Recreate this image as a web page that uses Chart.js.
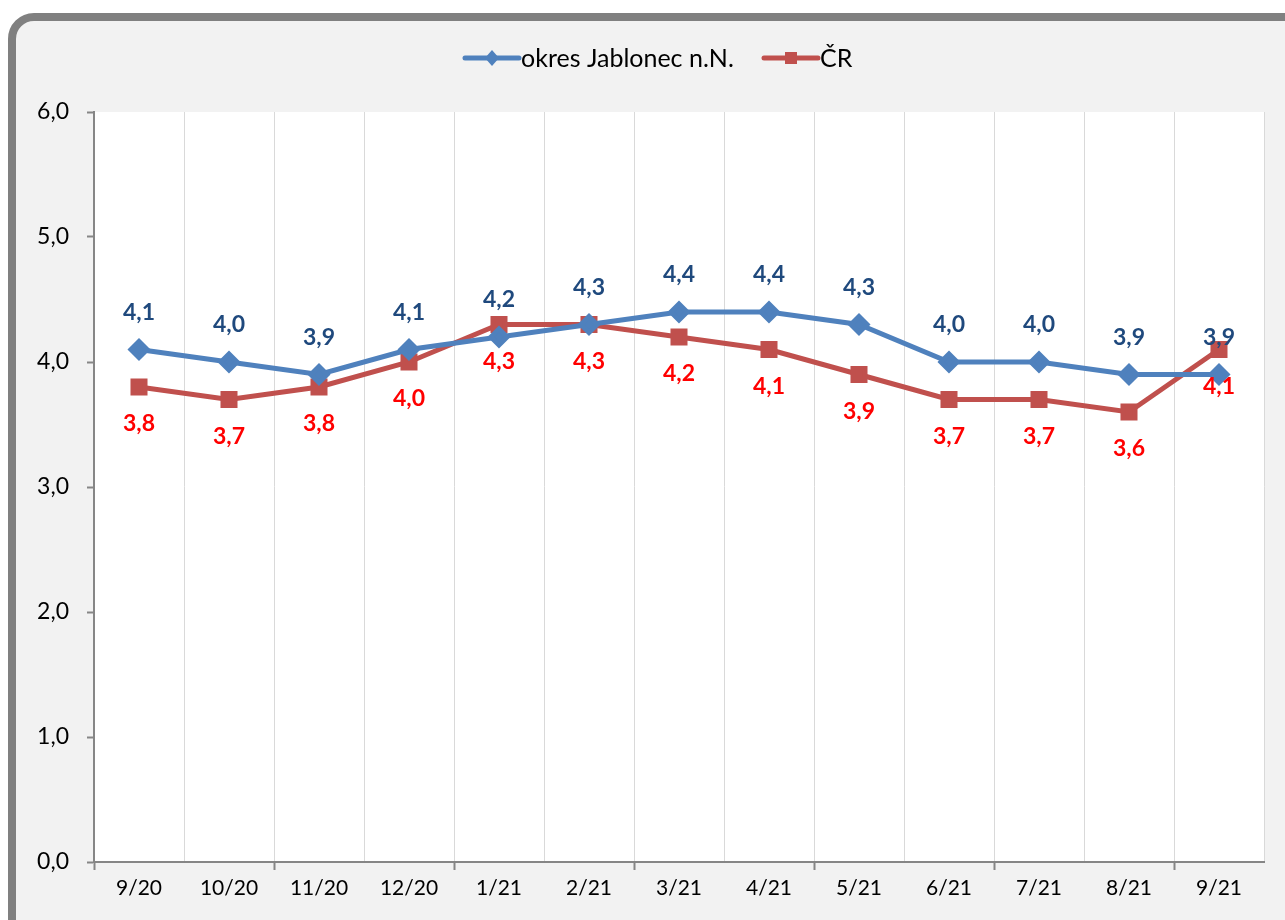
<!DOCTYPE html>
<html>
<head>
<meta charset="utf-8">
<script src="https://cdn.jsdelivr.net/npm/chart.js@4"></script>
<style>
  html, body { margin: 0; padding: 0; background: #fff; }
  body { width: 1285px; height: 920px; position: relative; overflow: hidden; }
  #frame {
    position: absolute; left: 8px; top: 13px; width: 1320px; height: 960px;
    box-sizing: border-box; border: 8px solid #808080; border-radius: 26px;
    background: #f2f2f2;
  }
  #chart { position: absolute; left: 0; top: 0; }
</style>
</head>
<body>
<div id="frame"></div>
<canvas id="chart" width="1285" height="920"></canvas>
<script>
// Monthly values.
const months = ["9/20", "10/20", "11/20", "12/20", "1/21", "2/21", "3/21",
  "4/21", "5/21", "6/21", "7/21", "8/21", "9/21"];
const jablonec = [4.1, 4.0, 3.9, 4.1, 4.2, 4.3, 4.4, 4.4, 4.3, 4.0, 4.0, 3.9, 3.9];
const cr = [3.8, 3.7, 3.8, 4.0, 4.3, 4.3, 4.2, 4.1, 3.9, 3.7, 3.7, 3.6, 4.1];
const yTicks = [0, 1, 2, 3, 4, 5, 6];

const BLUE = "#4f81bd";
const RED = "#c0504d";
const FONT = "Lato, 'Open Sans', sans-serif";

const fmt = (v) => v.toFixed(1).replace(".", ",");

// White plot area behind the lines.
const plotBg = {
  id: "plotBg",
  beforeDraw(chart) {
    const a = chart.chartArea, c = chart.ctx;
    c.save();
    c.fillStyle = "#ffffff";
    c.fillRect(a.left, a.top, a.right - a.left, a.bottom - a.top);
    c.restore();
  },
};

// Value labels: first series above the point, second one below.
const valueLabels = {
  id: "valueLabels",
  afterDatasetsDraw(chart) {
    const c = chart.ctx;
    c.save();
    c.font = "bold 23px " + FONT;
    c.textAlign = "center";
    c.textBaseline = "middle";
    chart.data.datasets.forEach((ds, i) => {
      const meta = chart.getDatasetMeta(i);
      meta.data.forEach((pt, j) => {
        c.fillStyle = i === 0 ? "#1f497d" : "#ff0000";
        const dy = i === 0 ? -37 : 37;
        c.fillText(fmt(ds.data[j]), pt.x, pt.y + dy);
      });
    });
    c.restore();
  },
};

// Legend drawn by hand: line segment with marker, then the name.
const lineLegend = {
  id: "lineLegend",
  afterDraw(chart) {
    const c = chart.ctx;
    c.save();
    c.font = "25px " + FONT;
    c.textBaseline = "middle";
    const y = 58;
    const items = [
      { x: 463, color: BLUE, style: "diamond", label: chart.data.datasets[0].label },
      { x: 762, color: RED, style: "square", label: chart.data.datasets[1].label },
    ];
    items.forEach((it) => {
      c.strokeStyle = it.color;
      c.lineWidth = 5;
      c.lineCap = "round";
      c.beginPath();
      c.moveTo(it.x + 2, y);
      c.lineTo(it.x + 56, y);
      c.stroke();
      c.fillStyle = it.color;
      const mx = it.x + 29;
      if (it.style === "diamond") {
        c.beginPath();
        c.moveTo(mx, y - 8);
        c.lineTo(mx + 7, y);
        c.lineTo(mx, y + 8);
        c.lineTo(mx - 7, y);
        c.closePath();
        c.fill();
      } else {
        c.fillRect(mx - 6, y - 6, 12, 12);
      }
      c.fillStyle = "#000";
      c.fillText(it.label, it.x + 58, y + 1);
    });
    c.restore();
  },
};

new Chart(document.getElementById("chart"), {
  type: "line",
  data: {
    labels: months,
    datasets: [
      {
        label: "okres Jablonec n.N.",
        data: jablonec,
        borderColor: BLUE,
        backgroundColor: BLUE,
        borderWidth: 5,
        pointStyle: "rectRot",
        pointRadius: 8,
        pointHoverRadius: 8,
        tension: 0,
      },
      {
        label: "ČR",
        data: cr,
        borderColor: RED,
        backgroundColor: RED,
        borderWidth: 5,
        pointStyle: "rect",
        pointRadius: 8.5,
        pointHoverRadius: 8.5,
        tension: 0,
      },
    ],
  },
  options: {
    responsive: false,
    animation: false,
    events: [],
    layout: { padding: { top: 112, right: 21, left: 0, bottom: 0 } },
    plugins: { legend: { display: false }, tooltip: { enabled: false } },
    scales: {
      x: {
        offset: true,
        grid: {
          offset: true,
          color: "#d9d9d9",
          lineWidth: 1,
          tickLength: 8,
          tickColor: (ctx) => (ctx.index % 2 === 0 ? "#868686" : "rgba(0,0,0,0)"),
          tickWidth: 2,
        },
        border: { color: "#868686", width: 2 },
        ticks: { color: "#000", font: { size: 21, family: FONT }, padding: 6, maxRotation: 0 },
        afterFit: (s) => { s.height = 58; },
      },
      y: {
        min: 0,
        max: 6,
        afterBuildTicks: (s) => { s.ticks = yTicks.map((v) => ({ value: v })); },
        grid: { drawOnChartArea: false, tickLength: 7, color: "#868686", tickWidth: 2 },
        border: { color: "#868686", width: 2 },
        ticks: {
          color: "#000",
          font: { size: 23, family: FONT },
          padding: 18,
          callback: (v) => fmt(v),
        },
        afterFit: (s) => { s.width = 94; },
      },
    },
  },
  plugins: [plotBg, valueLabels, lineLegend],
});
</script>
</body>
</html>
